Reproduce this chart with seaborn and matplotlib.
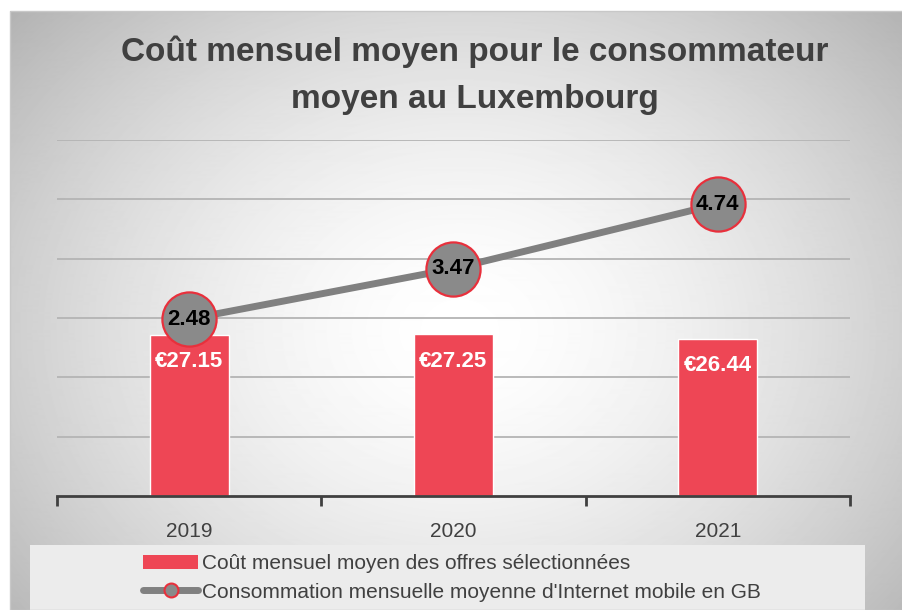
import matplotlib
matplotlib.use("Agg")
import matplotlib.pyplot as plt
import numpy as np
import pandas as pd
import seaborn as sns
from matplotlib.lines import Line2D
from matplotlib.patches import Patch, Rectangle

# --- Data ---
years = ["2019", "2020", "2021"]
monthly_cost = [27.15, 27.25, 26.44]        # EUR, bars
monthly_usage_gb = [2.48, 3.47, 4.74]       # GB, line on secondary axis

TITLE = "Coût mensuel moyen pour le consommateur\nmoyen au Luxembourg"
BAR_LABEL = "Coût mensuel moyen des offres sélectionnées"
LINE_LABEL = "Consommation mensuelle moyenne d'Internet mobile en GB"

BAR_COLOR = "#EE4655"
LINE_COLOR = "#808080"
MARKER_EDGE = "#E8303C"

sns.set_theme(style="white")
plt.rcParams["font.family"] = ["Liberation Sans", "DejaVu Sans"]

W, H = 903, 610
fig = plt.figure(figsize=(W / 100, H / 100), dpi=100)
fig.patch.set_facecolor("white")

# Radial grey gradient behind the chart area
bg = fig.add_axes([10 / W, 0, 1 - 10 / W, 1 - 11 / H], zorder=-10)
gy, gx = np.mgrid[0:600, 0:893]
dist = np.sqrt(((gx - 450) / 520.0) ** 2 + ((gy - 320) / 420.0) ** 2)
shade = 1.0 - 0.24 * np.clip(dist, 0, 1.2) ** 1.6
bg.imshow(shade, cmap="gray", vmin=0, vmax=1, aspect="auto", interpolation="bilinear")
bg.set_axis_off()
fig.add_artist(Rectangle((10 / W, 0), 1 - 10 / W, 1 - 11 / H, transform=fig.transFigure,
                         fill=False, edgecolor="#c8c8c8", linewidth=1))

# Legend backdrop
fig.add_artist(Rectangle((30 / W, 0), 835 / W, 65 / H, transform=fig.transFigure,
                         facecolor="#ececec", edgecolor="none", zorder=0))

ax = fig.add_axes([57 / W, (H - 496) / H, (850 - 57) / W, (496 - 140) / H])
ax.set_facecolor("none")

df = pd.DataFrame({"year": years, "cost": monthly_cost, "usage": monthly_usage_gb})

sns.barplot(data=df, x="year", y="cost", color=BAR_COLOR, width=0.3,
            saturation=1, ax=ax, zorder=3)

ax2 = ax.twinx()
ax2.set_ylim(-1, 6)
sns.lineplot(data=df, x="year", y="usage", ax=ax2, color=LINE_COLOR, linewidth=5,
             marker="o", markersize=39, markerfacecolor="#8a8a8a",
             markeredgecolor=MARKER_EDGE, markeredgewidth=1.6, zorder=7)
ax2.set_axis_off()
for i, v in enumerate(monthly_usage_gb):
    ax2.text(i, v, f"{v:.2f}", ha="center", va="center", color="black",
             fontsize=16, fontweight="bold", zorder=8)

# Primary axis styling (after twinx, which turns left ticks back on)
ax.set_ylim(0, 60)
ax.set_xlim(-0.5, 2.5)
ax.set_yticks([10, 20, 30, 40, 50, 60])
ax.yaxis.grid(True, color="#b4b4b4", linewidth=1.3)
ax.set_axisbelow(True)
ax.tick_params(axis="y", which="both", left=False, right=False,
               labelleft=False, labelright=False)
for side in ["top", "left", "right"]:
    ax.spines[side].set_visible(False)
ax.spines["bottom"].set_color("#404040")
ax.spines["bottom"].set_linewidth(2)
ax.spines["bottom"].set_zorder(5)
ax.set_xlabel("")
ax.set_ylabel("")
ax.set_xticks([-0.5, 0.5, 1.5, 2.5], minor=True)
ax.tick_params(axis="x", which="minor", length=7, width=2, color="#404040", bottom=True)
ax.tick_params(axis="x", which="major", length=0, labelsize=15, labelcolor="#404040", pad=19)

for i, v in enumerate(monthly_cost):
    ax.text(i, v - 4.5, f"€{v:.2f}", ha="center", va="center", color="white",
            fontsize=16, fontweight="bold", zorder=6)

fig.text(475 / W, 1 - 75 / H, TITLE, ha="center", va="center", fontsize=24,
         fontweight="bold", color="#404040", linespacing=1.65)

handles = [
    Patch(facecolor=BAR_COLOR, edgecolor="none"),
    Line2D([0], [0], color=LINE_COLOR, linewidth=5, marker="o", markersize=10,
           markerfacecolor="#8a8a8a", markeredgecolor=MARKER_EDGE, markeredgewidth=1.5),
]
fig.legend(handles, [BAR_LABEL, LINE_LABEL], loc="center left",
           bbox_to_anchor=(133 / W, 32 / H), frameon=False, fontsize=15,
           labelcolor="#404040", handlelength=2.6, handletextpad=0.2,
           labelspacing=0.45, borderpad=0)

fig.savefig("out.png", dpi=100)
